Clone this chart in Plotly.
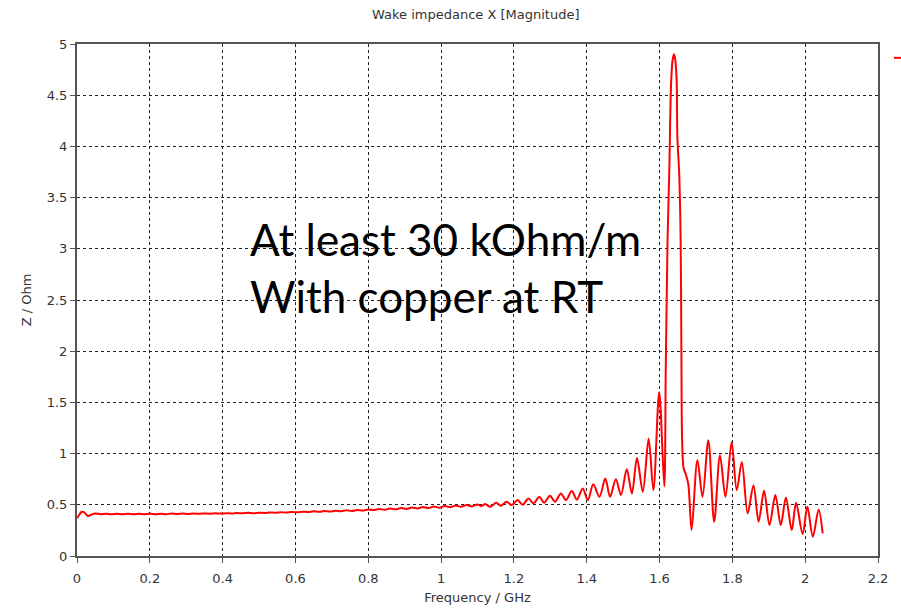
import plotly.graph_objects as go

# Frequency (GHz) and impedance magnitude (Ohm)
freq = [
    0.000, 0.006, 0.012, 0.020, 0.030, 0.040, 0.050, 0.065, 0.080, 0.095,
    0.110, 0.125, 0.140, 0.155, 0.170, 0.185, 0.200, 0.215, 0.230, 0.245,
    0.260, 0.275, 0.290, 0.305, 0.320, 0.335, 0.350, 0.365, 0.380, 0.395,
    0.410, 0.425, 0.440, 0.455, 0.470, 0.485, 0.500, 0.515, 0.530, 0.545,
    0.560, 0.575, 0.590, 0.605, 0.620, 0.635, 0.650, 0.665, 0.680, 0.695,
    0.710, 0.725, 0.740, 0.755, 0.770, 0.785, 0.800, 0.815, 0.830, 0.845,
    0.860, 0.875, 0.890, 0.905, 0.920, 0.935, 0.950, 0.965, 0.980, 0.995,
    1.010, 1.025, 1.040, 1.055, 1.070, 1.085, 1.100, 1.112, 1.121, 1.135,
    1.151, 1.164, 1.180, 1.194, 1.210, 1.224, 1.240, 1.254, 1.270, 1.283,
    1.299, 1.313, 1.329, 1.343, 1.359, 1.373, 1.389, 1.403, 1.418, 1.435,
    1.451, 1.464, 1.480, 1.494, 1.510, 1.524, 1.538, 1.554, 1.570, 1.583,
    1.599, 1.613, 1.617, 1.620, 1.622, 1.627, 1.629, 1.632, 1.636, 1.640,
    1.643, 1.647, 1.649, 1.654, 1.658, 1.660, 1.662, 1.666, 1.672, 1.679,
    1.688, 1.704, 1.718, 1.734, 1.750, 1.766, 1.781, 1.798, 1.812, 1.826,
    1.842, 1.858, 1.872, 1.887, 1.902, 1.918, 1.933, 1.947, 1.963, 1.975,
    1.993, 2.006, 2.021, 2.037, 2.048,
]
z_mag = [
    0.370, 0.400, 0.430, 0.425, 0.390, 0.405, 0.415, 0.408, 0.413, 0.407,
    0.413, 0.407, 0.413, 0.407, 0.412, 0.407, 0.414, 0.408, 0.413, 0.408,
    0.415, 0.409, 0.414, 0.411, 0.415, 0.412, 0.416, 0.413, 0.417, 0.414,
    0.418, 0.415, 0.420, 0.417, 0.422, 0.418, 0.423, 0.420, 0.426, 0.422,
    0.428, 0.424, 0.430, 0.427, 0.433, 0.429, 0.436, 0.431, 0.439, 0.434,
    0.442, 0.437, 0.446, 0.440, 0.450, 0.444, 0.455, 0.448, 0.459, 0.452,
    0.463, 0.456, 0.468, 0.460, 0.473, 0.464, 0.478, 0.468, 0.483, 0.472,
    0.488, 0.476, 0.493, 0.480, 0.498, 0.484, 0.503, 0.488, 0.507, 0.480,
    0.520, 0.490, 0.530, 0.497, 0.546, 0.500, 0.562, 0.513, 0.578, 0.520,
    0.588, 0.530, 0.611, 0.546, 0.634, 0.550, 0.660, 0.546, 0.700, 0.578,
    0.757, 0.578, 0.750, 0.595, 0.848, 0.610, 0.958, 0.627, 1.147, 0.643,
    1.600, 0.680, 1.800, 2.600, 3.080, 3.800, 4.200, 4.640, 4.850, 4.900,
    4.850, 4.640, 4.090, 3.730, 3.080, 2.000, 1.130, 0.860, 0.800, 0.700,
    0.253, 0.936, 0.578, 1.130, 0.334, 0.984, 0.578, 1.114, 0.643, 0.919,
    0.416, 0.692, 0.334, 0.636, 0.302, 0.595, 0.302, 0.572, 0.253, 0.520,
    0.214, 0.480, 0.188, 0.455, 0.220,
]

x_ticks = [0, 0.2, 0.4, 0.6, 0.8, 1, 1.2, 1.4, 1.6, 1.8, 2, 2.2]
x_tick_text = ["0", "0.2", "0.4", "0.6", "0.8", "1", "1.2", "1.4", "1.6", "1.8", "2", "2.2"]
y_ticks = [0, 0.5, 1, 1.5, 2, 2.5, 3, 3.5, 4, 4.5, 5]
y_tick_text = ["0", "0.5", "1", "1.5", "2", "2.5", "3", "3.5", "4", "4.5", "5"]

fig = go.Figure()
fig.add_trace(go.Scatter(
    x=freq, y=z_mag, mode="lines",
    line=dict(color="#ff0000", width=2, shape="spline", smoothing=0.9),
    showlegend=False, hoverinfo="x+y",
))

axis_font = dict(family="DejaVu Sans", size=13, color="#333333")
fig.update_layout(
    width=901, height=610,
    margin=dict(l=77, r=23, t=44, b=54),
    paper_bgcolor="white", plot_bgcolor="white",
    title=dict(text="Wake impedance X [Magnitude]", x=0.528, xanchor="center",
               y=0.977, yanchor="middle",
               font=dict(family="DejaVu Sans", size=13, color="#333333")),
    xaxis=dict(range=[0, 2.2], tickvals=x_ticks, ticktext=x_tick_text,
               showgrid=True, gridcolor="#222222", griddash="3px,3px", gridwidth=1,
               showline=True, linecolor="#555555", linewidth=2, mirror=True,
               ticks="outside", ticklen=5, tickcolor="#555555",
               tickfont=axis_font, zeroline=False, ticklabelstandoff=4,
               automargin=False,
               title=dict(text="Frequency / GHz", font=axis_font, standoff=8)),
    yaxis=dict(range=[0, 5], tickvals=y_ticks, ticktext=y_tick_text,
               showgrid=True, gridcolor="#222222", griddash="3px,3px", gridwidth=1,
               showline=True, linecolor="#555555", linewidth=2, mirror=True,
               ticks="outside", ticklen=5, tickcolor="#555555",
               tickfont=axis_font, zeroline=False, automargin=False,
               title=dict(text="Z / Ohm", font=axis_font, standoff=12)),
    annotations=[dict(
        text="At least 30 kOhm/m<br>With copper at RT",
        xref="paper", yref="paper", x=0.213, y=0.563,
        xanchor="left", yanchor="middle", align="left", showarrow=False,
        font=dict(family="Lato", size=44, color="black"),
    )],
    shapes=[dict(type="line", xref="paper", yref="paper",
                 x0=1.02, x1=1.03, y0=0.973, y1=0.973,
                 line=dict(color="#ff0000", width=2))],
)

fig.write_html("out.html")
